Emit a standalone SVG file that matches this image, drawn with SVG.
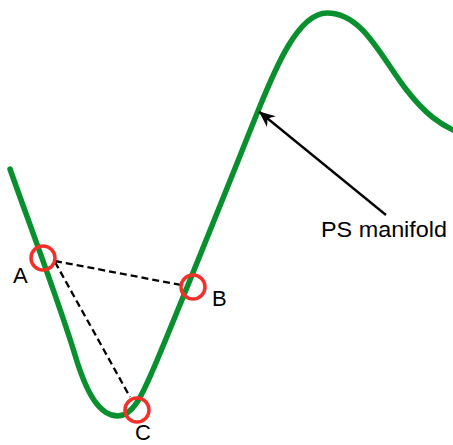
<svg xmlns="http://www.w3.org/2000/svg" width="453" height="445" viewBox="0 0 453 445">
<defs>
<style>
.manifold{fill:none;stroke:#08902e;stroke-width:5.5;stroke-linecap:round;stroke-linejoin:round}
.pt{fill:none;stroke:#f5302a;stroke-width:3.5}
.dash{fill:none;stroke:#000;stroke-width:2.3;stroke-dasharray:7,4}
.arrow{fill:none;stroke:#000;stroke-width:2.3}
.lbl{font-family:"Liberation Sans",Arial,sans-serif;font-size:22px;fill:#000}
</style>
<marker id="head" markerUnits="userSpaceOnUse" markerWidth="20" markerHeight="16" viewBox="-17 -8 20 16" refX="0" refY="0" orient="auto">
<path d="M0,0 L-16,-7 L-11,0 L-16,7 Z" fill="#000"/>
</marker>
</defs>
<g id="curve">
<path class="manifold" d="M10,169 C25,212 60,305 75,355 C87,395 100,416 118,416 C133,416 142,395 152,372 C175,319 245,143 258,111 C275,69 298,13 327,13 C362,13 380,55 405,88 C425,114 440,125 460,133"/>
</g>
<g id="connectors">
<line class="dash" x1="55" y1="261" x2="181" y2="285"/>
<line class="dash" x1="55" y1="262" x2="130" y2="397"/>
<line class="arrow" x1="386" y1="215" x2="259" y2="111.5" marker-end="url(#head)"/>
</g>
<g id="A">
<circle class="pt" cx="43" cy="258" r="12"/>
<text class="lbl" x="13" y="283">A</text>
</g>
<g id="B">
<circle class="pt" cx="193" cy="287" r="12"/>
<text class="lbl" x="212" y="306">B</text>
</g>
<g id="C">
<circle class="pt" cx="137" cy="410" r="12"/>
<text class="lbl" x="135" y="440">C</text>
</g>
<g id="label">
<text class="lbl" x="321" y="237" textLength="126" lengthAdjust="spacingAndGlyphs">PS manifold</text>
</g>
</svg>
